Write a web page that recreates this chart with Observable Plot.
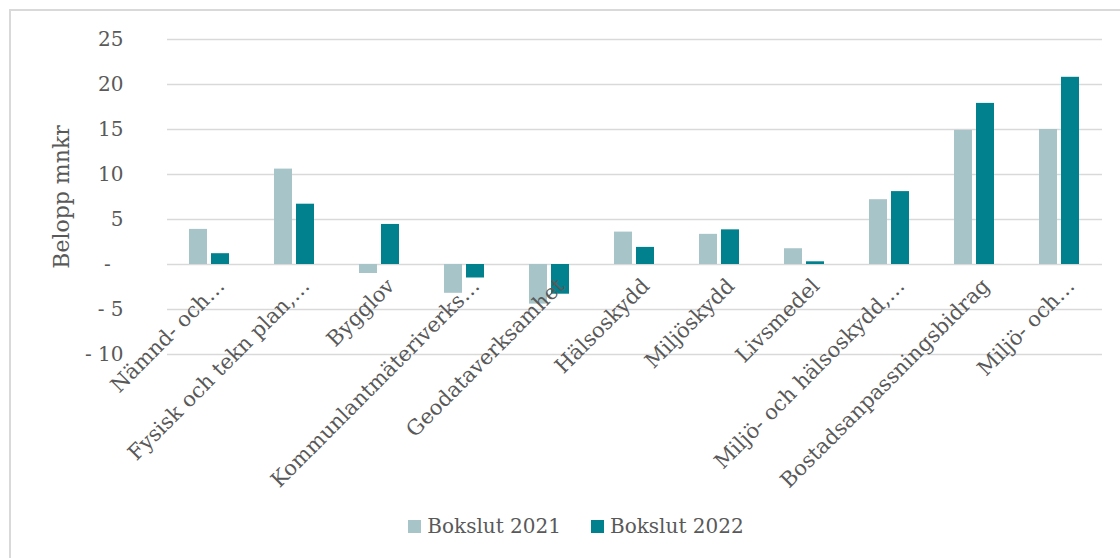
<!DOCTYPE html>
<html>
<head>
<meta charset="utf-8">
<script src="https://cdn.jsdelivr.net/npm/d3@7"></script>
<script src="https://cdn.jsdelivr.net/npm/@observablehq/plot@0.6"></script>
<style>
  body { margin: 0; background: #fff; font-family: "DejaVu Serif", serif; overflow: hidden; }
  #wrap { position: relative; width: 1120px; height: 558px; }
  #frame { position: absolute; left: 9px; top: 9px; width: 1140px; height: 600px;
           border-left: 2px solid #d9d9d9; border-top: 2px solid #d9d9d9; }
  #chart { position: absolute; left: 0; top: 0; }
  #ylabel { position: absolute; left: 62px; top: 197px; transform: translate(-50%, -50%) rotate(-90deg);
            font-size: 22px; line-height: 22px; color: #595959; white-space: nowrap; }
  #legend { position: absolute; left: 16px; top: 514px; width: 1120px; display: flex; justify-content: center;
            align-items: center; font-size: 20px; color: #595959; }
  .item { display: flex; align-items: center; margin: 0 15px; }
  .sw { width: 13px; height: 13px; margin-right: 6px; }
</style>
</head>
<body>
<div id="wrap">
  <div id="frame"></div>
  <div id="chart"></div>
  <div id="ylabel">Belopp mnkr</div>
  <div id="legend"></div>
</div>
<script>
const categories = ["Nämnd- och…", "Fysisk och tekn plan,…", "Bygglov", "Kommunlantmäteriverks…", "Geodataverksamhet", "Hälsoskydd", "Miljöskydd", "Livsmedel", "Miljö- och hälsoskydd,…", "Bostadsanpassningsbidrag", "Miljö- och…"];
const series = ["Bokslut 2021", "Bokslut 2022"];
const bokslut2021 = [3.9, 10.6, -1.0, -3.2, -4.4, 3.6, 3.35, 1.75, 7.2, 14.9, 15.0];
const bokslut2022 = [1.2, 6.7, 4.45, -1.5, -3.3, 1.9, 3.85, 0.3, 8.1, 17.9, 20.8];
const colors = ["#a7c4c9", "#00818d"];
const yTicks = [-10, -5, 0, 5, 10, 15, 20, 25];

const rows = categories.flatMap((c, i) => [
  {cat: c, series: series[0], value: bokslut2021[i]},
  {cat: c, series: series[1], value: bokslut2022[i]}
]);

const fmt = d => d === 0 ? "-\u00a0\u00a0" : d < 0 ? "- " + (-d) : String(d);

const plot = Plot.plot({
  width: 1120,
  height: 500,
  marginLeft: 165,
  marginRight: 17,
  marginTop: 39,
  marginBottom: 146,
  style: {fontFamily: "DejaVu Serif", fontSize: "20px", color: "#595959", background: "transparent"},
  fx: {domain: categories, padding: 0, axis: null, label: null},
  x: {domain: series, paddingInner: 0.174, paddingOuter: 0.94, axis: null},
  y: {domain: [-10, 25], ticks: yTicks, tickFormat: fmt, tickSize: 0, tickPadding: 44, label: null},
  color: {domain: series, range: colors},
  marks: [
    Plot.ruleY(yTicks, {stroke: "#d9d9d9", strokeWidth: 1.6}),
    Plot.barY(rows, {fx: "cat", x: "series", y: "value", fill: "series"}),
    Plot.text(categories, {fx: d => d, y: d => 0, text: d => d, rotate: -45, textAnchor: "end", dx: 11, dy: 18, fontSize: 21, fill: "#595959"})
  ]
});
document.getElementById("chart").appendChild(plot);

const legend = document.getElementById("legend");
series.forEach((s, i) => {
  const item = document.createElement("div");
  item.className = "item";
  const sw = document.createElement("div");
  sw.className = "sw";
  sw.style.background = colors[i];
  const t = document.createElement("span");
  t.textContent = s;
  item.appendChild(sw);
  item.appendChild(t);
  legend.appendChild(item);
});
</script>
</body>
</html>
